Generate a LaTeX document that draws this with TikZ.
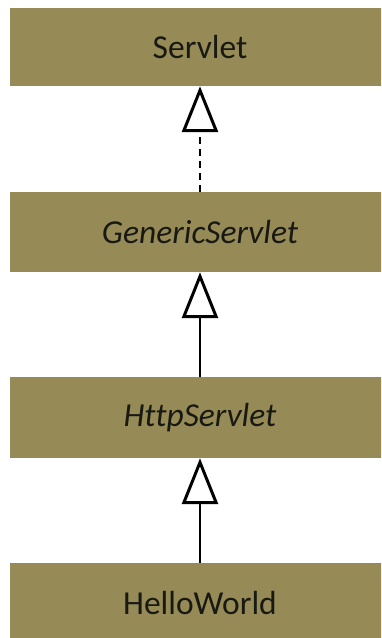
\documentclass[tikz,border=0pt]{standalone}
\usepackage{fontspec}
\setmainfont[Ligatures=NoCommon]{Carlito}
\usetikzlibrary{arrows.meta}
\definecolor{boxfill}{RGB}{150,139,86}
\definecolor{txt}{RGB}{25,25,20}
\begin{document}
\begin{tikzpicture}[x=1pt,y=-1pt,
  cls/.style={fill=boxfill, draw=none, minimum width=380pt, inner sep=0pt, font=\fontsize{33.5}{36}\selectfont, text=txt},
  gen/.style={draw=black, line width=2pt, -{Triangle[open, length=46pt, width=36pt, line width=3pt]}},
  real/.style={gen, dash pattern=on 7pt off 5pt}]
\useasboundingbox (0,0) rectangle (381,638);
\fill[white] (0,0) rectangle (381,638);
\clip (0,0) rectangle (381,638);
\node[cls, minimum height=78pt] (servlet) at (200,47) {Servlet};
\node[cls, minimum height=80pt] (generic) at (200,232) {\itshape GenericServlet};
\node[cls, minimum height=81pt] (http) at (200,417.5) {\itshape HttpServlet};
\node[cls, minimum height=80pt] (hello) at (200,603) {HelloWorld};
\draw[real] (generic.north) -- (servlet.south);
\draw[gen] (http.north) -- (generic.south);
\draw[gen] (hello.north) -- (http.south);
\end{tikzpicture}
\end{document}
